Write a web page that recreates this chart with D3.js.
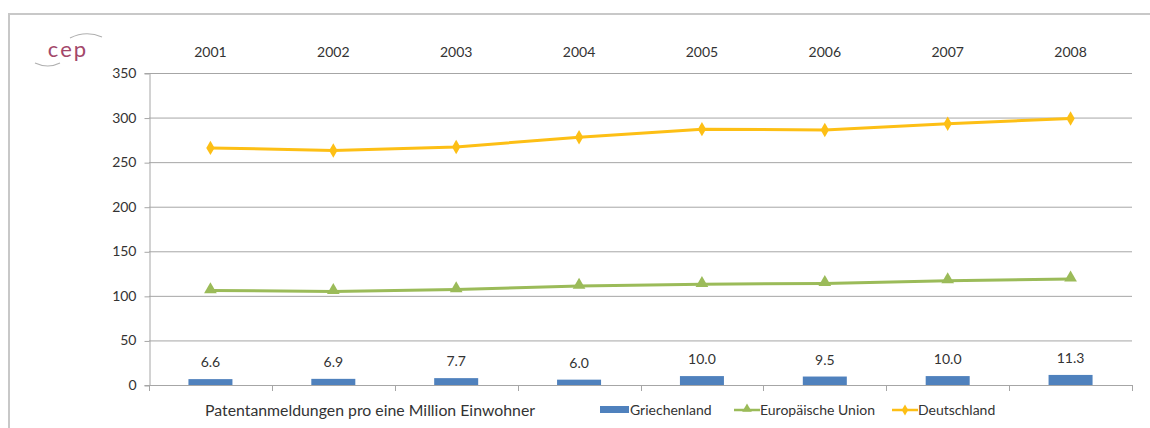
<!DOCTYPE html>
<html>
<head>
<meta charset="utf-8">
<script src="https://cdn.jsdelivr.net/npm/d3@7"></script>
<style>
  html, body { margin: 0; padding: 0; background: #fff; overflow: hidden; }
  svg { display: block; font-family: Lato, "Open Sans", sans-serif; }
</style>
</head>
<body>
<svg id="chart" width="1150" height="428"></svg>
<script>
// Patent applications per one million inhabitants
const years = ["2001", "2002", "2003", "2004", "2005", "2006", "2007", "2008"];
const griechenland = [6.6, 6.9, 7.7, 6.0, 10.0, 9.5, 10.0, 11.3];
const europaeischeUnion = [106, 105, 107, 111, 113, 114, 117, 119];
const deutschland = [266, 263, 267, 278, 287, 286, 293, 299];
const yTicks = [0, 50, 100, 150, 200, 250, 300, 350];

const svg = d3.select("#chart");
const W = 1150, H = 428;

// outer frame (top and left edges)
svg.append("path")
  .attr("d", `M9,${H} L9,14 L${W},14`)
  .attr("fill", "none").attr("stroke", "#c8c8c8").attr("stroke-width", 2);

// logo
const logo = svg.append("g");
logo.append("path").attr("d", "M70,38 Q86,30 102,37")
  .attr("fill", "none").attr("stroke", "#b0b0b0").attr("stroke-width", 1.2);
logo.append("path").attr("d", "M35,63 Q48,69 60,63")
  .attr("fill", "none").attr("stroke", "#b0b0b0").attr("stroke-width", 1.2);
logo.append("text").attr("x", 68).attr("y", 57)
  .attr("text-anchor", "middle")
  .attr("font-size", 22).attr("fill", "#a3476a").attr("letter-spacing", 2)
  .text("cep");

const margin = { left: 149, right: 1132, top: 73, bottom: 385 };

const x = d3.scaleBand().domain(years).range([margin.left, margin.right]);
const y = d3.scaleLinear().domain([0, 350]).range([margin.bottom, margin.top]);

// gridlines
svg.append("g")
  .selectAll("line").data(yTicks.filter(d => d > 0)).join("line")
  .attr("x1", margin.left).attr("x2", margin.right)
  .attr("y1", d => y(d) + 0.5).attr("y2", d => y(d) + 0.5)
  .attr("stroke", "#a6a6a6").attr("stroke-width", 1);

// y axis
const yAxis = svg.append("g")
  .attr("transform", `translate(${margin.left + 0.5},0)`)
  .call(d3.axisLeft(y).tickValues(yTicks).tickSize(5).tickPadding(8));
yAxis.select(".domain").attr("stroke", "#a6a6a6");
yAxis.selectAll(".tick line").attr("stroke", "#a6a6a6")
  .attr("transform", "translate(0,0.5)");
yAxis.selectAll("text").attr("font-size", 14).attr("fill", "#333")
  .attr("font-family", "Lato, sans-serif");

// x axis baseline with tick marks at band boundaries
const xAxisG = svg.append("g");
xAxisG.append("line")
  .attr("x1", margin.left).attr("x2", margin.right)
  .attr("y1", margin.bottom + 0.5).attr("y2", margin.bottom + 0.5)
  .attr("stroke", "#a6a6a6");
const boundaries = years.map(d => x(d)).concat([x(years[years.length - 1]) + x.bandwidth()]);
xAxisG.selectAll("line.tk").data(boundaries).join("line").attr("class", "tk")
  .attr("x1", d => Math.round(d) + 0.5).attr("x2", d => Math.round(d) + 0.5)
  .attr("y1", margin.bottom).attr("y2", margin.bottom + 6)
  .attr("stroke", "#a6a6a6");

// year labels along the top
svg.append("g").selectAll("text").data(years).join("text")
  .attr("x", d => x(d) + x.bandwidth() / 2)
  .attr("y", 57)
  .attr("text-anchor", "middle")
  .attr("font-size", 14).attr("fill", "#333")
  .text(d => d);

// bars (Griechenland)
const barW = 44;
svg.append("g").selectAll("rect").data(griechenland).join("rect")
  .attr("x", (d, i) => x(years[i]) + x.bandwidth() / 2 - barW / 2)
  .attr("y", d => y(d))
  .attr("width", barW)
  .attr("height", d => y(0) - y(d))
  .attr("fill", "#4f81bd");

// bar value labels
svg.append("g").selectAll("text").data(griechenland).join("text")
  .attr("x", (d, i) => x(years[i]) + x.bandwidth() / 2)
  .attr("y", d => y(d) - 12)
  .attr("text-anchor", "middle")
  .attr("font-size", 14).attr("fill", "#333")
  .text(d => d3.format(".1f")(d));

const line = d3.line()
  .x((d, i) => x(years[i]) + x.bandwidth() / 2)
  .y(d => y(d));

// Europäische Union
svg.append("path").datum(europaeischeUnion)
  .attr("d", line).attr("fill", "none")
  .attr("stroke", "#9bbb59").attr("stroke-width", 3);
svg.append("g").selectAll("path").data(europaeischeUnion).join("path")
  .attr("d", d3.symbol(d3.symbolTriangle, 70))
  .attr("transform", (d, i) => `translate(${x(years[i]) + x.bandwidth() / 2},${y(d) - 1})`)
  .attr("fill", "#9bbb59");

// Deutschland
svg.append("path").datum(deutschland)
  .attr("d", line).attr("fill", "none")
  .attr("stroke", "#fdbf15").attr("stroke-width", 3);
svg.append("g").selectAll("path").data(deutschland).join("path")
  .attr("d", d3.symbol(d3.symbolDiamond, 60))
  .attr("transform", (d, i) => `translate(${x(years[i]) + x.bandwidth() / 2},${y(d)})`)
  .attr("fill", "#fdbf15");

// footer caption
svg.append("text")
  .attr("x", 205).attr("y", 416)
  .attr("font-size", 15.5).attr("fill", "#333")
  .attr("textLength", 330).attr("lengthAdjust", "spacingAndGlyphs")
  .text("Patentanmeldungen pro eine Million Einwohner");

// legend
const legend = svg.append("g").attr("font-size", 14).attr("fill", "#333");
// Griechenland
legend.append("rect").attr("x", 600).attr("y", 406).attr("width", 29).attr("height", 7).attr("fill", "#4f81bd");
legend.append("text").attr("x", 630).attr("y", 415).text("Griechenland");
// Europäische Union
legend.append("line").attr("x1", 734).attr("x2", 760).attr("y1", 410).attr("y2", 410)
  .attr("stroke", "#9bbb59").attr("stroke-width", 2.5);
legend.append("path").attr("d", d3.symbol(d3.symbolTriangle, 40))
  .attr("transform", "translate(747,409)").attr("fill", "#9bbb59");
legend.append("text").attr("x", 760).attr("y", 415).text("Europäische Union");
// Deutschland
legend.append("line").attr("x1", 892).attr("x2", 918).attr("y1", 410).attr("y2", 410)
  .attr("stroke", "#fdbf15").attr("stroke-width", 2.5);
legend.append("path").attr("d", d3.symbol(d3.symbolDiamond, 36))
  .attr("transform", "translate(905,410)").attr("fill", "#fdbf15");
legend.append("text").attr("x", 918).attr("y", 415).text("Deutschland");
</script>
</body>
</html>
